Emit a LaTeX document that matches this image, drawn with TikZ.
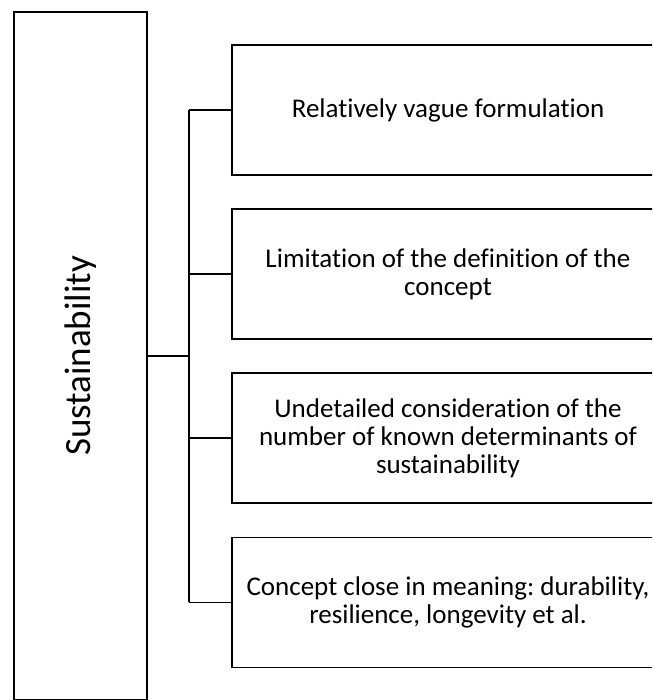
\documentclass[tikz,border=0pt]{standalone}
\usepackage{fontspec}
\setmainfont[Ligatures=NoCommon]{Carlito}
\usetikzlibrary{positioning}
\frenchspacing
\tikzset{
  rootbox/.style={draw, line width=1.6pt, minimum width=133pt, minimum height=688pt, inner sep=0pt},
  itembox/.style={draw, line width=1.6pt, minimum width=432pt, minimum height=130pt, inner sep=0pt,
    align=center, font=\fontsize{27}{28}\selectfont},
  link/.style={line width=1.6pt}
}
\begin{document}
\begin{tikzpicture}[x=1pt, y=-1pt, node distance=32.5pt]
\useasboundingbox (0,0) rectangle (652,700);
\clip (0,0) rectangle (652,700);
\node[rootbox] (sust) at (80.5,356) {};
\node[rotate=90, font=\fontsize{37}{40}\selectfont] (sustlabel) at (sust.center) {Sustainability};
\node[itembox] (vague) at (448,110) {Relatively vague formulation};
\node[itembox, below=of vague] (limit) {Limitation of the definition of the\\concept};
\node[itembox, below=of limit] (undetail) {Undetailed consideration of the\\number of known determinants of\\sustainability};
\node[itembox, below=of undetail] (close) {Concept close in meaning: durability,\\resilience, longevity et al.};
\coordinate (fork) at (189,356);
\draw[link] (sust.east) -- (fork);
\draw[link] (fork |- vague.west) -- (fork |- close.west);
\foreach \n in {vague, limit, undetail, close}
  \draw[link] (fork |- \n.west) -- (\n.west);
\end{tikzpicture}
\end{document}
